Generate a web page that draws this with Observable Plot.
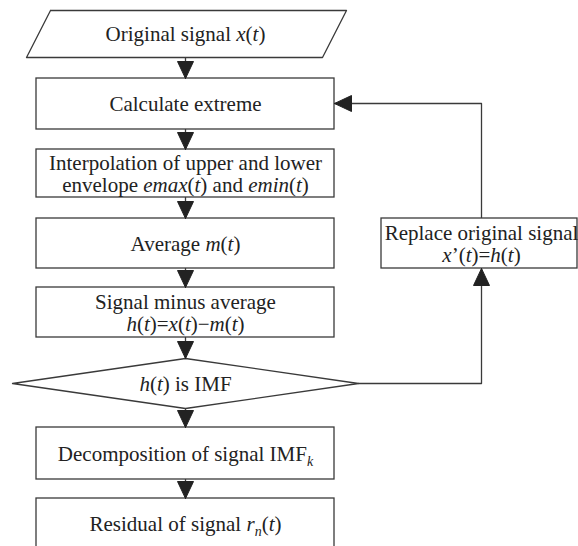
<!DOCTYPE html>
<html><head><meta charset="utf-8">
<script src="https://cdn.jsdelivr.net/npm/d3@7"></script>
<script src="https://cdn.jsdelivr.net/npm/@observablehq/plot@0.6"></script>
<style>body{margin:0;background:#fff} svg text{font-family:"Liberation Serif","Times New Roman",serif !important;}</style>
</head><body><div id="chart"></div>
<script>
// ---- Flowchart content (markup: *italic*, _{subscript}) ----
const stepLabels = [
  "Original signal *x*(*t*)",
  "Calculate extreme",
  "Interpolation of upper and lower\nenvelope *emax*(*t*) and *emin*(*t*)",
  "Average *m*(*t*)",
  "Signal minus average\n*h*(*t*)=*x*(*t*)−*m*(*t*)",
  "*h*(*t*) is IMF",
  "Decomposition of signal IMF_{k}",
  "Residual of signal *r*_{n}(*t*)"
];
const stepShapes = ["io", "process", "process", "process", "process", "decision", "process", "process"];
const sideLabel = "Replace original signal\n*x*’(*t*)=*h*(*t*)";
const loopFromStep = 5;   // decision "no" branch
const loopToStep = 1;     // back to "Calculate extreme"

// ---- Layout ----
const W = 578, H = 546;
const cx = 185, colLeft = 36, colRight = 334;
const stepTop    = [10, 78, 149, 218, 287, 358, 427, 498];
const stepBottom = [57, 129, 197, 268, 337, 408, 479, 549];
const ioTopX = [50, 346], ioBottomX = [26, 322];
const diamondHalf = 173;
const side = {x1: 381, x2: 577, y1: 218, y2: 268};
const sideCx = 481, loopY = 103;
const headLen = 17, headHalf = 8;
const ink = "#3a3a3a";

// rectangles
const rects = [];
stepShapes.forEach((s, i) => {
  if (s === "process") rects.push({x1: colLeft, x2: colRight, y1: stepTop[i], y2: stepBottom[i]});
});
rects.push(side);

// polygon outlines
const outlines = [];
stepShapes.forEach((s, i) => {
  const t = stepTop[i], b = stepBottom[i], m = (t + b) / 2;
  let pts = null;
  if (s === "io") pts = [[ioTopX[0], t], [ioTopX[1], t], [ioBottomX[1], b], [ioBottomX[0], b]];
  if (s === "decision") pts = [[cx, t], [cx + diamondHalf, m], [cx, b], [cx - diamondHalf, m]];
  if (pts) { pts.push(pts[0]); pts.forEach(([x, y]) => outlines.push({id: "s" + i, x, y})); }
});

// connectors and arrowheads
const links = [], heads = [];
function head(id, tx, ty, dir) {
  let pts;
  if (dir === "down") pts = [[tx, ty], [tx - headHalf, ty - headLen], [tx + headHalf, ty - headLen]];
  if (dir === "up") pts = [[tx, ty], [tx - headHalf, ty + headLen], [tx + headHalf, ty + headLen]];
  if (dir === "left") pts = [[tx, ty], [tx + headLen, ty - headHalf], [tx + headLen, ty + headHalf]];
  pts.push(pts[0]);
  pts.forEach(([x, y]) => heads.push({id, x, y}));
}
for (let i = 0; i + 1 < stepLabels.length; i++) {
  links.push({id: "a" + i, x: cx, y: stepBottom[i]}, {id: "a" + i, x: cx, y: stepTop[i + 1]});
  head("a" + i, cx, stepTop[i + 1], "down");
}
const dm = (stepTop[loopFromStep] + stepBottom[loopFromStep]) / 2;
[[cx + diamondHalf, dm], [sideCx, dm], [sideCx, side.y2]].forEach(([x, y]) => links.push({id: "no", x, y}));
head("no", sideCx, side.y2, "up");
[[sideCx, side.y1], [sideCx, loopY], [colRight, loopY]].forEach(([x, y]) => links.push({id: "back", x, y}));
head("back", colRight, loopY, "left");

// labels
const labels = stepLabels.map((label, i) => ({label, x: cx, y: (stepTop[i] + stepBottom[i]) / 2}));
labels[stepLabels.length - 1].y = 523;
labels.push({label: sideLabel, x: sideCx, y: (side.y1 + side.y2) / 2});

const serif = "Liberation Serif";
const chart = Plot.plot({
  width: W, height: H, margin: 0,
  x: {domain: [0, W], range: [0, W], axis: null},
  y: {domain: [0, H], range: [0, H], axis: null},
  style: {background: "white", fontFamily: serif},
  marks: [
    Plot.line(links, {x: "x", y: "y", z: "id", stroke: ink, strokeWidth: 1.3, curve: "linear"}),
    Plot.rect(rects, {x1: "x1", x2: "x2", y1: "y1", y2: "y2", fill: "white", stroke: ink, strokeWidth: 1.3}),
    Plot.line(outlines, {x: "x", y: "y", z: "id", stroke: ink, strokeWidth: 1.3, fill: "white"}),
    Plot.line(heads, {x: "x", y: "y", z: "id", stroke: "#222", strokeWidth: 1, fill: "#222"}),
    Plot.text(labels, {x: "x", y: "y", text: "label", fontSize: 21, fontFamily: serif, lineHeight: 1.05, fill: "#222"})
  ]
});
document.getElementById("chart").appendChild(chart);

// apply italic / subscript runs
const ns = "http://www.w3.org/2000/svg";
function runs(el) {
  const markup = el.textContent;
  el.textContent = "";
  const re = /\*([^*]+)\*|_\{([^}]+)\}|([^*_]+)/g;
  let m, shifted = false;
  while ((m = re.exec(markup))) {
    const t = document.createElementNS(ns, "tspan");
    if (m[2]) {
      t.setAttribute("font-style", "italic");
      t.setAttribute("font-size", "14");
      t.setAttribute("dy", "5");
      t.textContent = m[2];
      shifted = true;
    } else {
      if (m[1]) t.setAttribute("font-style", "italic");
      t.textContent = m[1] || m[3];
      if (shifted) { t.setAttribute("dy", "-5"); shifted = false; }
    }
    el.appendChild(t);
  }
}
chart.querySelectorAll('g[aria-label="text"] text').forEach(tx => {
  const lines = tx.querySelectorAll("tspan");
  if (lines.length) lines.forEach(runs); else runs(tx);
});
</script>
</body></html>
